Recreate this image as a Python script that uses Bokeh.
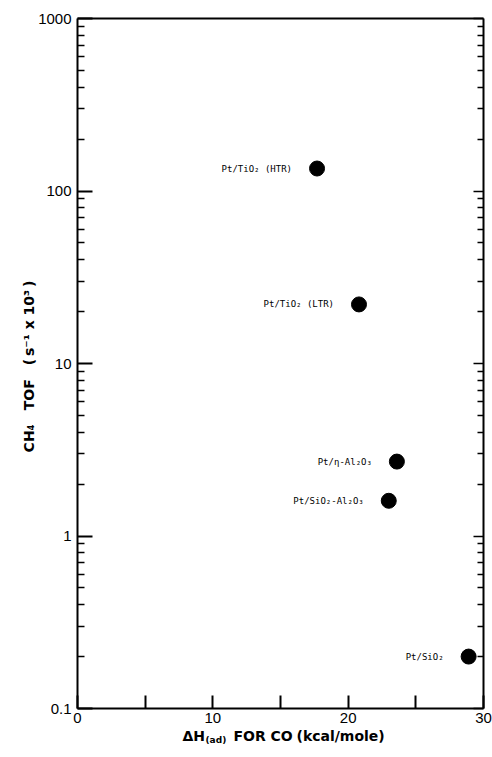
import math
from bokeh.plotting import figure
from bokeh.models import (ColumnDataSource, FixedTicker, LogAxis, LinearAxis, Label, Range1d)
from bokeh.core.properties import value
from bokeh.embed import file_html
from bokeh.resources import INLINE

# ---- data ----
catalysts = ["Pt/TiO\u2082 (HTR)", "Pt/TiO\u2082 (LTR)", "Pt/\u03b7-Al\u2082O\u2083",
             "Pt/SiO\u2082-Al\u2082O\u2083", "Pt/SiO\u2082"]
dh_co = [17.7, 20.8, 23.6, 23.0, 28.9]          # kcal/mole
ch4_tof = [135.0, 22.0, 2.7, 1.6, 0.20]         # s^-1 x 10^3

x_ticks = [0, 10, 20, 30]
x_minor = [5, 15, 25]
y_ticks = [0.1, 1, 10, 100, 1000]
y_tick_labels = ["0.1", "1", "10", "100", "1000"]

# ---- layout: frame covers the whole canvas, axes are pinned inside ----
W, H = 492, 757
L, R, T, B = 77, 9, 18, 49          # pixel margins around the plotting box
x0, x1 = 0, 30
y0, y1 = 0.1, 1000
pxu = (W - L - R) / (x1 - x0)
pxd = (H - T - B) / (math.log10(y1) - math.log10(y0))
xr = Range1d(x0 - L / pxu, x1 + R / pxu)
yr = Range1d(10 ** (math.log10(y0) - B / pxd), 10 ** (math.log10(y1) + T / pxd))

p = figure(width=W, height=H, y_axis_type="log", output_backend="svg",
           toolbar_location=None, x_range=xr, y_range=yr, title=None,
           min_border=0, x_axis_location=None, y_axis_location=None)
p.grid.visible = False
p.outline_line_color = None
p.background_fill_color = "white"
p.border_fill_color = "white"

y_minor = [m * d for d in [0.1, 1, 10, 100] for m in range(2, 10)]

tick_font = "Liberation Sans"

xa = LinearAxis(ticker=FixedTicker(ticks=x_ticks, minor_ticks=x_minor))
xa.fixed_location = y0
xa.bounds = (x0, x1)
xa.axis_line_width = 2
xa.major_tick_in = 13
xa.major_tick_out = 0
xa.minor_tick_in = 13
xa.minor_tick_out = 0
xa.major_tick_line_width = 2
xa.minor_tick_line_width = 2
xa.major_label_text_font = tick_font
xa.major_label_text_font_size = "15px"
xa.major_label_text_color = "black"
xa.major_label_standoff = 4
p.add_layout(xa, "below")

xt = LinearAxis(ticker=FixedTicker(ticks=[]))
xt.fixed_location = y1
xt.bounds = (x0, x1)
xt.axis_line_width = 2
xt.major_tick_in = 0
xt.major_tick_out = 0
xt.minor_tick_in = 0
xt.minor_tick_out = 0
xt.major_label_text_color = None
p.add_layout(xt, "above")

ya = LogAxis(ticker=FixedTicker(ticks=y_ticks, minor_ticks=y_minor))
ya.fixed_location = x0
ya.bounds = (y0, y1)
ya.major_label_overrides = {t: s for t, s in zip(y_ticks, y_tick_labels)}
ya.axis_line_width = 2
ya.major_tick_in = 15
ya.major_tick_out = 0
ya.minor_tick_in = 7
ya.minor_tick_out = 0
ya.major_tick_line_width = 2
ya.minor_tick_line_width = 1.5
ya.major_label_text_font = tick_font
ya.major_label_text_font_size = "15px"
ya.major_label_text_color = "black"
ya.major_label_standoff = 6
p.add_layout(ya, "left")

ra = LogAxis(ticker=FixedTicker(ticks=y_ticks, minor_ticks=y_minor))
ra.fixed_location = x1
ra.bounds = (y0, y1)
ra.axis_line_width = 2
ra.major_tick_in = 10
ra.major_tick_out = 0
ra.minor_tick_in = 6
ra.minor_tick_out = 0
ra.major_tick_line_width = 1.5
ra.minor_tick_line_width = 1.5
ra.major_label_text_color = None
p.add_layout(ra, "right")

# ---- points ----
src = ColumnDataSource(dict(x=dh_co, y=ch4_tof, name=catalysts))
p.scatter("x", "y", source=src, size=15, color="black")
p.text("x", "y", text="name", source=src, x_offset=-25, text_align="right",
       text_baseline="middle", text_font=value("DejaVu Sans Mono"),
       text_font_size="9px", text_color="black")

# ---- axis titles (screen units from the canvas bottom-left) ----
lab_font = "DejaVu Sans"

def add_label(text, xc, yc, size, **kw):
    p.add_layout(Label(x=xc, y=H - yc, x_units="screen", y_units="screen", text=text,
                       text_font=lab_font, text_font_size=size, text_font_style="bold",
                       text_color="black", **kw))

add_label("\u0394H", 182, 735, "14px", text_align="left", text_baseline="alphabetic")
add_label("(ad)", 205, 739, "9px", text_align="left", text_baseline="alphabetic")
add_label("FOR", 233, 735, "14px", text_align="left", text_baseline="alphabetic")
add_label("CO", 270, 735, "14px", text_align="left", text_baseline="alphabetic")
add_label("(kcal/mole)", 296, 735, "14px", text_align="left", text_baseline="alphabetic")

add_label("CH\u2084\u2003TOF\u2003(\u2009s\u207b\u00b9 x 10\u00b3\u2009)", 28, 366, "14px",
          text_align="center", text_baseline="middle", angle=math.pi / 2)

open("out.html", "w").write(file_html(p, INLINE))
